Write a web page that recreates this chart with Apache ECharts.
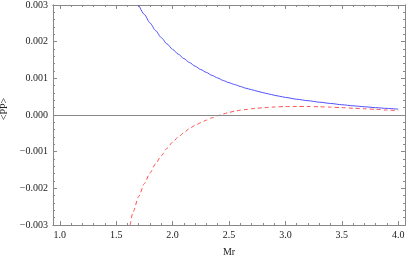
<!DOCTYPE html>
<html>
<head>
<meta charset="utf-8">
<script src="https://cdn.jsdelivr.net/npm/echarts@6/dist/echarts.min.js"></script>
<style>html,body{margin:0;padding:0;background:#fff}#c{width:408px;height:260px}</style>
</head>
<body>
<div id="c"></div>
<script>
var blueX = [1.70, 1.75, 1.80, 1.85, 1.90, 1.95, 2.00, 2.05, 2.10, 2.15, 2.20, 2.25, 2.30, 2.35, 2.40, 2.45, 2.50, 2.55, 2.60, 2.65, 2.70, 2.75, 2.80, 2.85, 2.90, 2.95, 3.00, 3.10, 3.20, 3.30, 3.40, 3.50, 3.60, 3.70, 3.80, 3.90, 4.00];
var blueY = [0.00300, 0.00274, 0.00251, 0.00230, 0.00211, 0.00194, 0.00179, 0.00166, 0.00154, 0.00143, 0.00133, 0.00124, 0.00116, 0.00108, 0.00101, 0.00094, 0.00088, 0.00083, 0.00078, 0.00073, 0.00069, 0.00065, 0.00061, 0.000575, 0.00054, 0.00051, 0.00048, 0.00043, 0.00039, 0.00035, 0.000315, 0.00028, 0.00025, 0.000225, 0.00020, 0.00018, 0.00016];
var redX = [1.624, 1.65, 1.70, 1.75, 1.80, 1.85, 1.90, 1.95, 2.00, 2.05, 2.10, 2.15, 2.20, 2.25, 2.30, 2.35, 2.40, 2.45, 2.50, 2.55, 2.60, 2.65, 2.70, 2.75, 2.80, 2.85, 2.90, 3.00, 3.10, 3.20, 3.30, 3.40, 3.50, 3.60, 3.70, 3.80, 3.90, 4.00];
var redY = [-0.00300, -0.00264, -0.00222, -0.00187, -0.00158, -0.00133, -0.00111, -0.00091, -0.00074, -0.00060, -0.00048, -0.00037, -0.00028, -0.00021, -0.00014, -0.000075, -0.00002, 0.00003, 0.00007, 0.000105, 0.00013, 0.00015, 0.00017, 0.000185, 0.000198, 0.00021, 0.000218, 0.00023, 0.000233, 0.000232, 0.000225, 0.000215, 0.00020, 0.000185, 0.00017, 0.000155, 0.000135, 0.00012];
var xMajorTicks = [1.0, 1.5, 2.0, 2.5, 3.0, 3.5, 4.0];
var xMinorTicks = [1.1, 1.2, 1.3, 1.4, 1.6, 1.7, 1.8, 1.9, 2.1, 2.2, 2.3, 2.4, 2.6, 2.7, 2.8, 2.9, 3.1, 3.2, 3.3, 3.4, 3.6, 3.7, 3.8, 3.9];
var yMajorTicks = [-0.003, -0.002, -0.001, 0.000, 0.001, 0.002, 0.003];
var yMinorTicks = [-0.0028, -0.0026, -0.0024, -0.0022, -0.0018, -0.0016, -0.0014, -0.0012, -0.0008, -0.0006, -0.0004, -0.0002, 0.0002, 0.0004, 0.0006, 0.0008, 0.0012, 0.0014, 0.0016, 0.0018, 0.0022, 0.0024, 0.0026, 0.0028];

function pairs(xs, ys) { return xs.map(function (x, i) { return [x, ys[i]]; }); }

var frameColor = '#888';
var FONT = '"Liberation Serif", "Times New Roman", serif';
var XMIN = 0.94, XMAX = 4.06, YMIN = -0.003, YMAX = 0.003;
var GRID = { left: 53, right: 3, top: 5, bottom: 35, containLabel: false, outerBoundsMode: 'none' };

function xAx(g, pos, ticks, len, labels) {
  return {
    type: 'value', gridIndex: g, position: pos, min: XMIN, max: XMAX,
    axisLine: { show: true, onZero: false, lineStyle: { color: frameColor, width: 1 } },
    axisTick: { show: true, inside: true, length: len, customValues: ticks, lineStyle: { color: frameColor, width: 1 } },
    axisLabel: labels ? { show: true, customValues: ticks, margin: 5, hideOverlap: false, formatter: function (v) { return v.toFixed(1); }, color: '#222', fontFamily: FONT, fontSize: 10 } : { show: false, customValues: ticks },
    splitLine: { show: false }
  };
}
function yAx(g, pos, ticks, len, labels) {
  return {
    type: 'value', gridIndex: g, position: pos, min: YMIN, max: YMAX,
    axisLine: { show: true, onZero: false, lineStyle: { color: frameColor, width: 1 } },
    axisTick: { show: true, inside: true, length: len, customValues: ticks, lineStyle: { color: frameColor, width: 1 } },
    axisLabel: labels ? { show: true, customValues: ticks, margin: 5, hideOverlap: false, formatter: function (v) { return v.toFixed(3).replace('-', '\u2212'); }, color: '#222', fontFamily: FONT, fontSize: 10 } : { show: false, customValues: ticks },
    splitLine: { show: false }
  };
}

var grids = [0, 1, 2, 3].map(function () { return Object.assign({}, GRID); });
var xa = [xAx(0, 'bottom', xMajorTicks, 4, true), xAx(1, 'bottom', xMinorTicks, 2, false), xAx(2, 'top', xMajorTicks, 4, false), xAx(3, 'top', xMinorTicks, 2, false)];
xa[0].name = 'Mr'; xa[0].nameLocation = 'middle'; xa[0].nameGap = 22;
xa[0].nameTextStyle = { color: '#222', fontFamily: FONT, fontSize: 10 };
var ya = [yAx(0, 'left', yMajorTicks, 4, true), yAx(1, 'left', yMinorTicks, 2, false), yAx(2, 'right', yMajorTicks, 4, false), yAx(3, 'right', yMinorTicks, 2, false)];
ya[0].name = '<PP>'; ya[0].nameLocation = 'middle'; ya[0].nameGap = 42; ya[0].nameRotate = 90;
ya[0].nameTextStyle = { color: '#222', fontFamily: FONT, fontSize: 10, padding: [0, 0, 0, 12] };

var chart = echarts.init(document.getElementById('c'), null, { renderer: 'canvas' });
chart.setOption({
  animation: false,
  backgroundColor: '#fff',
  grid: grids,
  xAxis: xa,
  yAxis: ya,
  series: [
    {
      type: 'line', data: pairs(blueX, blueY), smooth: 0.25, smoothMonotone: 'x', showSymbol: false,
      lineStyle: { color: '#5050ff', width: 1 }, xAxisIndex: 0, yAxisIndex: 0,
      markLine: { silent: true, symbol: 'none', label: { show: false }, lineStyle: { color: '#888', type: 'solid', width: 1 }, data: [{ yAxis: 0 }] }
    },
    {
      type: 'line', data: pairs(redX, redY), smooth: 0.25, smoothMonotone: 'x', showSymbol: false,
      lineStyle: { color: '#ff5050', width: 1, type: [4, 3] }, xAxisIndex: 0, yAxisIndex: 0
    }
  ]
});
</script>
</body>
</html>
